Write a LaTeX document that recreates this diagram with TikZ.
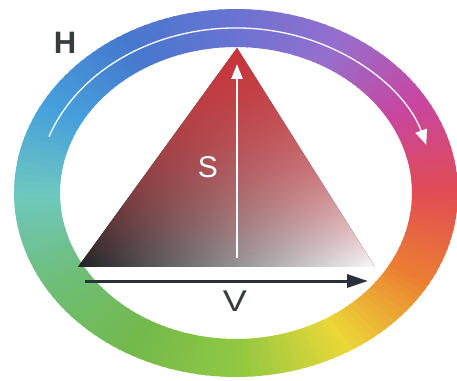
\documentclass[tikz,border=0pt]{standalone}
\usepackage{fontspec}
\setmainfont{Liberation Sans}
\usetikzlibrary{arrows.meta,fadings}
\definecolor{h0}{RGB}{225,75,85}
\definecolor{h1}{RGB}{200,70,160}
\definecolor{h2}{RGB}{150,110,205}
\definecolor{h3}{RGB}{105,115,210}
\definecolor{h4}{RGB}{70,120,205}
\definecolor{h5}{RGB}{70,160,220}
\definecolor{h6}{RGB}{110,200,190}
\definecolor{h7}{RGB}{110,190,120}
\definecolor{h8}{RGB}{115,185,75}
\definecolor{h9}{RGB}{145,200,65}
\definecolor{h10}{RGB}{235,215,55}
\definecolor{h11}{RGB}{235,125,50}
\definecolor{h12}{RGB}{225,75,85}
\definecolor{tridark}{RGB}{30,34,36}
\definecolor{trimid}{RGB}{95,110,112}
\definecolor{triwhite}{RGB}{250,250,253}
\definecolor{trired}{RGB}{200,52,58}
\definecolor{labeldark}{RGB}{55,60,60}
\definecolor{varrow}{RGB}{42,48,58}
\tikzfading[name=fadedown, top color=transparent!0, middle color=transparent!25, bottom color=transparent!100]
\tikzset{
  lbl/.style={font=\fontsize{30}{30}\selectfont, inner sep=0pt},
  whitearrow/.style={draw=white, -{Triangle[width=12pt,length=15pt]}},
}
\begin{document}
\begin{tikzpicture}[x=1pt,y=1pt]
\useasboundingbox[fill=white] (0,0) rectangle (457,380);
% hue ring
\begin{scope}[shift={(236,187)}]
\foreach \i [evaluate=\i as \j using int(\i+1)] in {0,...,11} {
  \foreach \k in {0,...,14} {
    \pgfmathsetmacro\t{\i*30+\k*2}
    \pgfmathsetmacro\tt{\t+2.6}
    \pgfmathsetmacro\p{100-\k*100/15}
    \fill[h\i!\p!h\j] (\t:222pt and 184pt) -- (\tt:222pt and 184pt) -- (\tt:176pt and 146pt) -- (\t:176pt and 146pt) -- cycle;
  }
}
\coordinate (hstart) at (160:199pt and 165pt);
\end{scope}
% H arrow
\draw[whitearrow, line width=1.3pt] (hstart) arc[start angle=160, end angle=17, x radius=199pt, y radius=165pt];
% triangle
\coordinate (apex) at (237,332);
\coordinate (bl) at (78,113);
\coordinate (br) at (375,113);
\fill[left color=tridark, middle color=trimid, right color=triwhite] (apex) -- (bl) -- (br) -- cycle;
\fill[trired, path fading=fadedown] (apex) -- (bl) -- (br) -- cycle;
\fill[trired, path fading=fadedown, fill opacity=0.5] (apex) -- (bl) -- (br) -- cycle;
% S arrow
\coordinate (sbot) at (237,122);
\coordinate (stop) at (237,316);
\draw[white, line width=2.5pt, -{Triangle[width=11pt,length=15pt]}] (sbot) -- (stop);
% V arrow
\coordinate (vstart) at (85,99);
\coordinate (vend) at (368,99);
\draw[varrow, line width=3pt, -{Triangle[width=13pt,length=21pt]}] (vstart) -- (vend);
% labels
\node[lbl, text=labeldark, font=\fontsize{31}{31}\selectfont\bfseries] (H) at (65,337) {H};
\node[lbl, text=white] (S) at (208,213) {S};
\node[lbl, text=labeldark, xscale=1.2] (V) at (235,79) {V};
\end{tikzpicture}
\end{document}
